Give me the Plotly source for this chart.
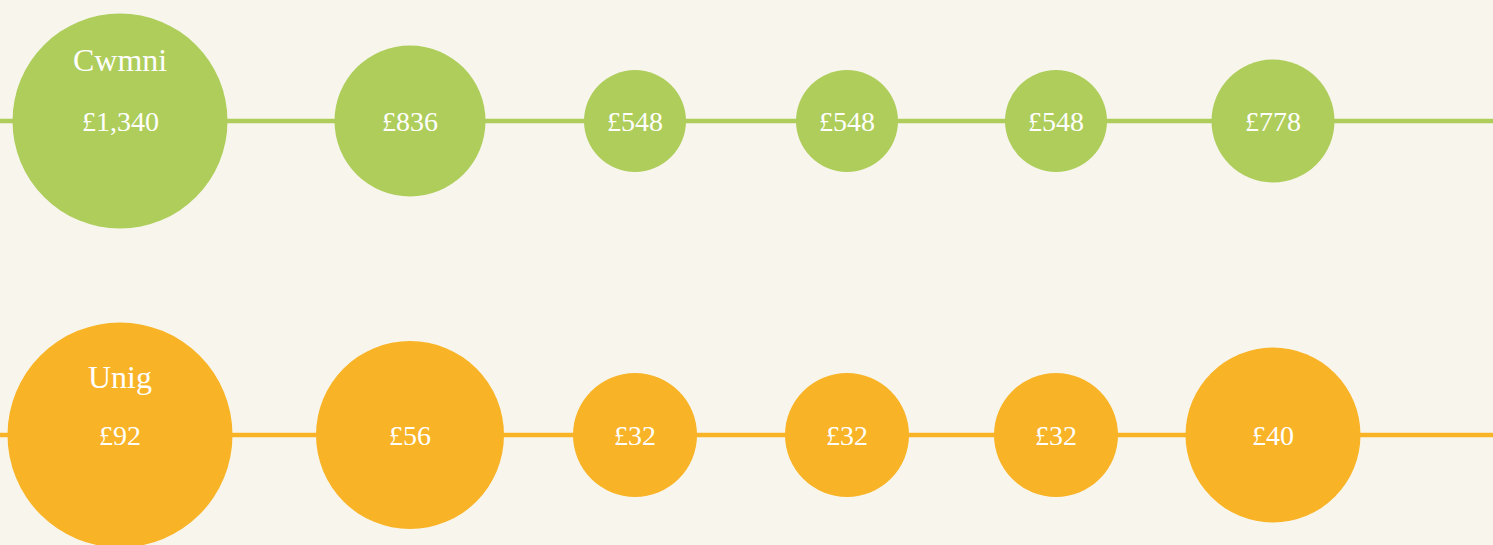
import plotly.graph_objects as go

# Data
series_names = ["Cwmni", "Unig"]
cwmni_values = [1340, 836, 548, 548, 548, 778]
unig_values = [92, 56, 32, 32, 32, 40]

# Layout / style (pixel positions in a 1493x545 canvas)
x_pos = [120, 410, 635, 847, 1056, 1273]
row_y = [121, 435]
name_y = [60, 377]
cwmni_diam = [215, 151, 102, 102, 102, 123]
unig_diam = [225, 188, 124, 124, 124, 175]
colors = ["#AECD5B", "#F9B326"]
bg = "#F8F6EC"
font_family = "Liberation Serif"

W, H = 1493, 545
fig = go.Figure()

rows = [(cwmni_values, cwmni_diam), (unig_values, unig_diam)]
for i, (vals, diam) in enumerate(rows):
    # connecting line
    fig.add_trace(go.Scatter(
        x=[0, W], y=[row_y[i], row_y[i]], mode="lines",
        line=dict(color=colors[i], width=4.5), hoverinfo="skip", showlegend=False))
    # circles
    fig.add_trace(go.Scatter(
        x=x_pos, y=[row_y[i]] * len(vals), mode="markers",
        marker=dict(size=diam, color=colors[i], opacity=1, line=dict(width=0)),
        name=series_names[i], showlegend=False))
    for xp, v in zip(x_pos, vals):
        fig.add_annotation(x=xp, y=row_y[i], text="£{:,}".format(v), showarrow=False,
                           yshift=0, font=dict(family=font_family, size=28, color="white"))
    fig.add_annotation(x=x_pos[0], y=name_y[i], text=series_names[i], showarrow=False,
                       font=dict(family=font_family, size=32, color="white"))

fig.update_layout(
    width=W, height=H, margin=dict(l=0, r=0, t=0, b=0),
    paper_bgcolor=bg, plot_bgcolor=bg,
    xaxis=dict(range=[0, W], visible=False, fixedrange=True),
    yaxis=dict(range=[H, 0], visible=False, fixedrange=True),
)
fig.write_html(
    "out.html",
    config={"displayModeBar": False},
    post_script="document.body.style.margin='0';document.body.style.overflow='hidden';"
                "document.body.style.background='" + bg + "';",
)
